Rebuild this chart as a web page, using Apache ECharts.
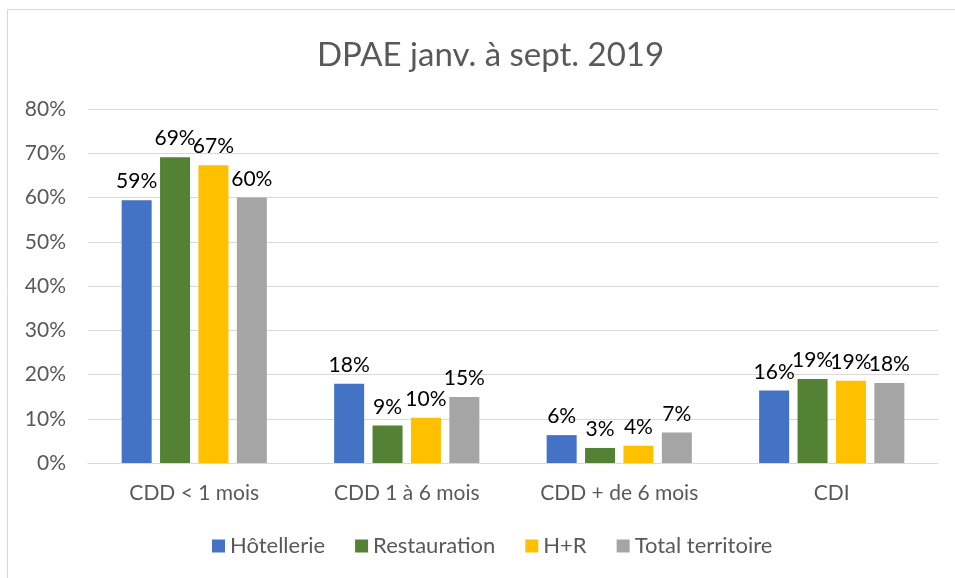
<!DOCTYPE html>
<html>
<head>
<meta charset="utf-8">
<script src="https://cdn.jsdelivr.net/npm/echarts@6/dist/echarts.min.js"></script>
<style>
  html, body { margin: 0; padding: 0; background: #fff; }
  #chart { width: 955px; height: 578px; }
</style>
</head>
<body>
<div id="chart"></div>
<script>
// categories and series (percent values)
const categories = ['CDD < 1 mois', 'CDD 1 à 6 mois', 'CDD + de 6 mois', 'CDI'];
const hotellerie = [59.4, 17.9, 6.3, 16.4];
const restauration = [69.1, 8.5, 3.4, 19.0];
const hr = [67.3, 10.2, 3.9, 18.6];
const totalTerritoire = [60.0, 14.9, 6.9, 18.1];
const seriesNames = ['Hôtellerie', 'Restauration', 'H+R', 'Total territoire'];
const colors = ['#4472c4', '#548235', '#ffc000', '#a5a5a5'];

const font = 'Lato, Carlito, "Liberation Sans", sans-serif';

let chart = echarts.init(document.getElementById('chart'));

function makeSeries(name, data, color) {
  return {
    name: name,
    type: 'bar',
    data: data,
    barWidth: 30,
    barGap: '28%',
    itemStyle: { color: color },
    label: {
      show: true,
      position: 'top',
      distance: 8,
      color: '#000',
      fontFamily: font,
      fontSize: 21,
      formatter: p => Math.round(p.value) + '%'
    }
  };
}

let option = {
  animation: false,
  title: {
    text: 'DPAE janv. à sept. 2019',
    left: 312,
    top: 34,
    textStyle: {
      color: '#595959',
      fontFamily: font,
      fontWeight: 'normal',
      fontSize: 33
    }
  },
  legend: {
    bottom: 16,
    left: 207,
    itemWidth: 13,
    itemHeight: 13,
    itemGap: 30,
    icon: 'rect',
    textStyle: { color: '#595959', fontFamily: font, fontSize: 22 },
    data: seriesNames
  },
  grid: { left: 88, right: 17, top: 109, bottom: 115 },
  xAxis: {
    type: 'category',
    data: categories,
    axisLine: { lineStyle: { color: '#d9d9d9' } },
    axisTick: { show: false },
    axisLabel: { color: '#595959', fontFamily: font, fontSize: 21, margin: 20 }
  },
  yAxis: {
    type: 'value',
    min: 0,
    max: 80,
    interval: 10,
    axisLine: { show: false },
    axisTick: { show: false },
    splitLine: { lineStyle: { color: '#d9d9d9' } },
    axisLabel: {
      color: '#595959',
      fontFamily: font,
      fontSize: 21,
      margin: 22,
      formatter: v => v + '%'
    }
  },
  graphic: [
    { type: 'line', shape: { x1: 7.5, y1: 9.5, x2: 955, y2: 9.5 }, style: { stroke: '#d9d9d9', lineWidth: 1 } },
    { type: 'line', shape: { x1: 7.5, y1: 9.5, x2: 7.5, y2: 578 }, style: { stroke: '#d9d9d9', lineWidth: 1 } }
  ],
  series: [
    makeSeries(seriesNames[0], hotellerie, colors[0]),
    makeSeries(seriesNames[1], restauration, colors[1]),
    makeSeries(seriesNames[2], hr, colors[2]),
    makeSeries(seriesNames[3], totalTerritoire, colors[3])
  ]
};

chart.setOption(option);
</script>
</body>
</html>
